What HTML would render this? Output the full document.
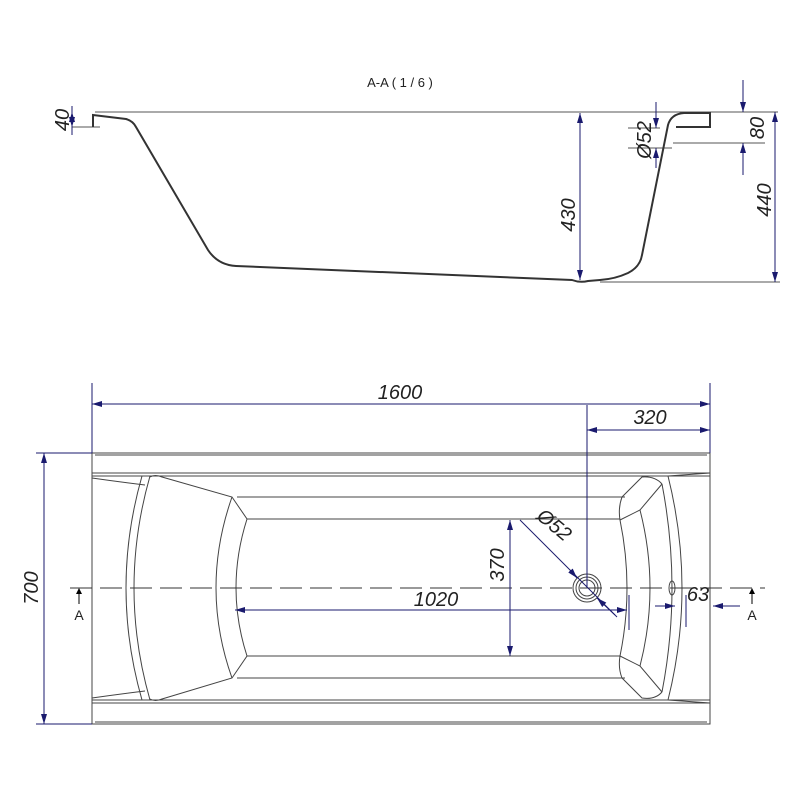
<!DOCTYPE html>
<html><head><meta charset="utf-8"><style>html,body{margin:0;padding:0;background:#fff}svg{display:block}</style></head><body>
<svg width="800" height="800" viewBox="0 0 800 800" xmlns="http://www.w3.org/2000/svg" font-family="Liberation Sans, sans-serif">
<defs>
<marker id="a" viewBox="0 0 10 6" refX="10" refY="3" markerWidth="10" markerHeight="6" orient="auto-start-reverse" markerUnits="userSpaceOnUse"><path d="M0,0 L10,3 L0,6 z" fill="#1a1a6e"/></marker>
</defs>
<text x="400" y="87" font-size="13" text-anchor="middle" fill="#222">A-A ( 1 / 6 )</text>
<g fill="none" stroke="#555" stroke-width="1">
<line x1="95" y1="112" x2="778" y2="112"/>
<line x1="72" y1="127" x2="100" y2="127"/>
<line x1="600" y1="282" x2="780" y2="282"/>
<line x1="673" y1="143" x2="765" y2="143"/>
<line x1="628" y1="128" x2="660" y2="128"/>
<line x1="628" y1="148" x2="672" y2="148"/>
</g>
<g fill="none" stroke="#333" stroke-width="2">
<path d="M93,127 L93,115 L126,119 Q133,121 136,127 L208,250 Q218,265 236,266 L572,280 Q580,283 588,281 L600,280 Q615,279 628,273 Q640,267 642,255 L668,125 Q671,114 684,113 L710,113 L710,127 L676,127"/>
</g>
<g stroke="#1a1a6e" stroke-width="1" fill="none">
<line x1="72" y1="106" x2="72" y2="135"/>
<line x1="72" y1="112" x2="72" y2="127" marker-start="url(#a)" marker-end="url(#a)"/>
<line x1="580" y1="113" x2="580" y2="280" marker-start="url(#a)" marker-end="url(#a)"/>
<line x1="656" y1="102" x2="656" y2="128" marker-end="url(#a)"/>
<line x1="656" y1="168" x2="656" y2="148" marker-end="url(#a)"/>
<line x1="743" y1="80" x2="743" y2="112" marker-end="url(#a)"/>
<line x1="743" y1="175" x2="743" y2="143" marker-end="url(#a)"/>
<line x1="775" y1="112" x2="775" y2="282" marker-start="url(#a)" marker-end="url(#a)"/>
</g>
<g font-size="20" font-style="italic" fill="#222">
<text transform="translate(69,120) rotate(-90)" text-anchor="middle">40</text>
<text transform="translate(575,215) rotate(-90)" text-anchor="middle">430</text>
<text transform="translate(651,140) rotate(-90)" text-anchor="middle">Ø52</text>
<text transform="translate(764,128) rotate(-90)" text-anchor="middle">80</text>
<text transform="translate(771,200) rotate(-90)" text-anchor="middle">440</text>
</g>
<g fill="none" stroke="#444" stroke-width="1">
<rect x="92" y="453" width="618" height="271"/>
<line x1="95" y1="455" x2="707" y2="455"/>
<line x1="92" y1="473" x2="710" y2="473"/>
<line x1="92" y1="476" x2="710" y2="476"/>
<line x1="92" y1="700" x2="710" y2="700"/>
<line x1="92" y1="703" x2="710" y2="703"/>
<line x1="95" y1="722" x2="707" y2="722"/>
<line x1="237" y1="497" x2="625" y2="497"/>
<line x1="247" y1="519" x2="620" y2="519"/>
<line x1="247" y1="656" x2="620" y2="656"/>
<line x1="237" y1="678" x2="625" y2="678"/>
<path d="M92,478 Q120,482 145,485"/>
<path d="M92,698 Q120,694 145,691"/>
<path d="M142,476 Q110,588 142,700"/>
<path d="M150,476 Q118,588 150,700"/>
<path d="M150,477 Q155,474 162,477 L232,497 L247,519 Q225,588 247,656 L232,678 L162,699 Q155,702 150,699"/>
<path d="M232,497 Q200,588 232,678"/>
<!-- right headrest -->
<path d="M668,476 L710,473"/>
<path d="M668,700 L710,703"/>
<path d="M620,520 L640,510 L662,484"/>
<path d="M620,656 L640,666 L662,692"/>
<path d="M622,497 L642,477 Q655,476 662,484"/>
<path d="M622,678 L642,698 Q655,700 662,692"/>
<path d="M622,497 Q618,508 620,520 Q634,588 620,656 Q618,668 622,678"/>
<path d="M640,510 Q660,588 640,666"/>
<path d="M662,484 Q682,588 662,692"/>
<path d="M668,476 Q696,588 668,700"/>
<circle cx="587" cy="588" r="14"/>
<circle cx="587" cy="588" r="11"/>
<circle cx="587" cy="588" r="8"/>
<ellipse cx="672" cy="588" rx="3" ry="7"/>
</g>
<line x1="70" y1="588" x2="765" y2="588" stroke="#333" stroke-width="1" stroke-dasharray="22,8"/>
<g stroke="#1a1a6e" stroke-width="1" fill="none">
<line x1="92" y1="383" x2="92" y2="453"/>
<line x1="710" y1="383" x2="710" y2="453"/>
<line x1="587" y1="405" x2="587" y2="588"/>
<line x1="92" y1="404" x2="710" y2="404" marker-start="url(#a)" marker-end="url(#a)"/>
<line x1="587" y1="430" x2="710" y2="430" marker-start="url(#a)" marker-end="url(#a)"/>
<line x1="36" y1="453" x2="92" y2="453"/>
<line x1="36" y1="724" x2="92" y2="724"/>
<line x1="44" y1="453" x2="44" y2="724" marker-start="url(#a)" marker-end="url(#a)"/>
<line x1="510" y1="520" x2="510" y2="656" marker-start="url(#a)" marker-end="url(#a)"/>
<line x1="235" y1="610" x2="627" y2="610" marker-start="url(#a)" marker-end="url(#a)"/>
<line x1="629" y1="595" x2="629" y2="630"/>
<line x1="520" y1="520" x2="617" y2="617" />
<line x1="570" y1="570" x2="577" y2="578" marker-end="url(#a)"/>
<line x1="615" y1="615" x2="597" y2="598" marker-end="url(#a)"/>
<line x1="655" y1="606" x2="675" y2="606" marker-end="url(#a)"/>
<line x1="740" y1="606" x2="713" y2="606" marker-end="url(#a)"/>
<line x1="686" y1="595" x2="686" y2="627"/>
</g>
<g stroke="#000" stroke-width="1"><line x1="79" y1="590" x2="79" y2="604"/><line x1="752" y1="590" x2="752" y2="604"/></g>
<path d="M76,594 L79,588 L82,594z M749,594 L752,588 L755,594z" fill="#000"/>
<g font-size="20" font-style="italic" fill="#222">
<text x="400" y="399" text-anchor="middle">1600</text>
<text x="650" y="424" text-anchor="middle">320</text>
<text transform="translate(38,588) rotate(-90)" text-anchor="middle">700</text>
<text transform="translate(504,565) rotate(-90)" text-anchor="middle">370</text>
<text x="436" y="606" text-anchor="middle">1020</text>
<text transform="translate(550,530) rotate(40)" text-anchor="middle">Ø52</text>
<text x="698" y="601" text-anchor="middle">63</text>
</g>
<g font-size="14" fill="#222"><text x="79" y="620" text-anchor="middle">A</text><text x="752" y="620" text-anchor="middle">A</text></g>
</svg>
</body></html>
